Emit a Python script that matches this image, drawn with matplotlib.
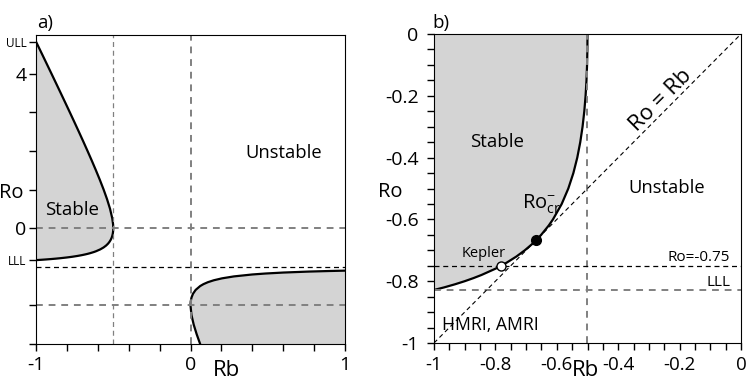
import numpy as np
import matplotlib
matplotlib.use("Agg")
import matplotlib.pyplot as plt

plt.rcParams['font.family'] = ['Open Sans', 'DejaVu Sans']
plt.rcParams['mathtext.fontset'] = 'custom'
plt.rcParams['mathtext.rm'] = 'Open Sans'
plt.rcParams['mathtext.it'] = 'Open Sans'

# stability boundary, branch Ro > -1
ro_left = [-0.8284, -0.82, -0.81, -0.80, -0.79, -0.78, -0.76, -0.75, -0.74, -0.72,
           -0.70, -0.68, -0.6667, -0.65, -0.62, -0.6, -0.55, -0.5, -0.45, -0.4,
           -0.35, -0.3, -0.25, -0.2, -0.15, -0.1, -0.05, 0.0, 0.1, 0.25, 0.5,
           0.75, 1.0, 1.25, 1.5, 1.75, 2.0, 2.25, 2.5, 2.75, 3.0, 3.25, 3.5,
           3.75, 4.0, 4.25, 4.5, 4.65, 4.8284]
rb_left = [-1.0, -0.9669, -0.9317, -0.9, -0.8715, -0.8457, -0.8008, -0.78125, -0.7633, -0.7314,
           -0.7042, -0.6806, -0.6667, -0.6509, -0.6264, -0.6125, -0.584, -0.5625, -0.546, -0.5333,
           -0.5236, -0.5161, -0.5104, -0.50625, -0.5033, -0.5014, -0.50033, -0.5, -0.5011, -0.50625, -0.5208,
           -0.5402, -0.5625, -0.5868, -0.6125, -0.6392, -0.6667, -0.6947, -0.7232, -0.7521, -0.78125, -0.8107, -0.8403,
           -0.8701, -0.9, -0.9301, -0.9602, -0.9784, -1.0]

# branch Ro < -1
ro_right = [-3.0, -2.75, -2.5, -2.25, -2.0, -1.9, -1.8, -1.7, -1.6, -1.5, -1.45,
            -1.4, -1.35, -1.3, -1.25, -1.2, -1.175, -1.15, -1.125, -1.11, -1.101]
rb_right = [0.0625, 0.0402, 0.0208, 0.00625, 0.0, 0.00139, 0.00625, 0.0161, 0.0333, 0.0625, 0.084,
            0.1125, 0.1509, 0.2042, 0.28125, 0.4, 0.4862, 0.6021, 0.7656, 0.9001, 1.0]

ULL = 4.8284
LLL = -0.8284
kepler = (-0.78125, -0.75)
crit = (-0.6667, -0.6667)

a_yticks = [ULL, 4, 3, 2, 1, 0, LLL, -2, -3]
a_ylabels = ['ULL', '4', '', '', '', '0', 'LLL', '', '']
b_ticks = [-1, -0.8, -0.6, -0.4, -0.2, 0]
b_labels = ['-1', '-0.8', '-0.6', '-0.4', '-0.2', '0']

shade = '#d4d4d4'
gray = '#808080'

fig = plt.figure(figsize=(7.47, 3.80), dpi=100)
ax1 = fig.add_axes([36/747, 36/380, 309/747, 309/380])
ax2 = fig.add_axes([434/747, 37/380, 307/747, 309/380])

# ---- panel a
ax1.fill_betweenx(ro_left, -1, rb_left, color=shade, lw=0)
ax1.fill_betweenx(ro_right, rb_right, 1, color=shade, lw=0)
ax1.plot(rb_left, ro_left, color='black', lw=1.6)
ax1.plot(rb_right, ro_right, color='black', lw=1.6)
ax1.axvline(-0.5, color=gray, lw=0.9, ls=(0, (4, 3)))
ax1.axvline(0, color=gray, lw=1.4, ls=(0, (3.5, 3)))
ax1.axhline(0, color=gray, lw=1.4, ls=(0, (3.5, 3)))
ax1.axhline(-2, color=gray, lw=1.4, ls=(0, (3.5, 3)))
ax1.axhline(-1, color='black', lw=0.9, ls=(0, (4, 3)))
ax1.set_xlim(-1, 1)
ax1.set_ylim(-3, 5)
ax1.set_xticks([-1, 0, 1])
ax1.set_xticklabels(['-1', '0', '1'])
ax1.set_xticks(np.arange(-1, 1.01, 0.2), minor=True)
ax1.set_yticks(a_yticks)
ax1.set_yticklabels(a_ylabels)
ax1.tick_params(axis='both', which='both', direction='out', length=5, width=1,
                labelsize=14, pad=2)
ax1.tick_params(axis='x', pad=4)
for lab in ax1.get_yticklabels():
    if lab.get_text() in ('ULL', 'LLL'):
        lab.set_fontsize(8.5)
ax1.text(-0.764, 0.47, 'Stable', fontsize=13.5, ha='center', va='center')
ax1.text(0.60, 1.94, 'Unstable', fontsize=13.2, ha='center', va='center')
ax1.text(0.23, -0.085, 'Rb', transform=ax1.get_xaxis_transform(), fontsize=16,
         ha='center', va='center')
fig.text(11/747, 1 - 193/380, 'Ro', fontsize=14.5, ha='center', va='center')
fig.text(37/747, 1 - 23/380, 'a)', fontsize=13.5, ha='left', va='center')

# ---- panel b
ax2.fill_betweenx(ro_left, -1, rb_left, color=shade, lw=0)
ax2.plot(rb_left, ro_left, color='black', lw=1.6)
ax2.axvline(-0.5, color=gray, lw=1.4, ls=(0, (3.5, 3)))
ax2.axhline(LLL, color=gray, lw=1.4, ls=(0, (3.5, 3)))
ax2.axhline(-0.75, color='black', lw=0.9, ls=(0, (4, 3)))
ax2.plot([-1, 0], [-1, 0], color='black', lw=0.8, ls=(0, (4, 3)))
ax2.plot(*crit, 'o', color='black', ms=7)
ax2.plot(*kepler, 'o', mfc='white', mec='black', ms=6.5, mew=1)
ax2.set_xlim(-1, 0)
ax2.set_ylim(-1, 0)
ax2.set_xticks(b_ticks)
ax2.set_xticklabels(b_labels)
ax2.set_yticks(b_ticks)
ax2.set_yticklabels(b_labels)
ax2.set_xticks(np.arange(-1, 0.001, 0.05), minor=True)
ax2.set_yticks(np.arange(-1, 0.001, 0.05), minor=True)
ax2.tick_params(axis='both', which='both', direction='out', length=5, width=1,
                labelsize=14)
ax2.tick_params(axis='y', pad=6)
ax2.tick_params(axis='x', pad=4, labelsize=13.5)
ax2.text(-0.793, -0.349, 'Stable', fontsize=13.5, ha='center', va='center')
ax2.text(-0.243, -0.498, 'Unstable', fontsize=13.2, ha='center', va='center')
ax2.text(-0.262, -0.214, 'Ro = Rb', fontsize=16, rotation=45,
         ha='center', va='center', rotation_mode='anchor')
ax2.text(-0.712, -0.552, r'Ro$^{-}_{\mathrm{cr}}$', fontsize=14.5, ha='left', va='center')
ax2.text(-0.838, -0.711, 'Kepler', fontsize=10.5, ha='center', va='center')
ax2.text(-0.035, -0.723, 'Ro=-0.75', fontsize=11, ha='right', va='center')
ax2.text(-0.035, -0.803, 'LLL', fontsize=11, ha='right', va='center')
ax2.text(-0.974, -0.941, 'HMRI, AMRI', fontsize=12.7, ha='left', va='center')
ax2.text(-0.505, -0.088, 'Rb', transform=ax2.get_xaxis_transform(), fontsize=16,
         ha='center', va='center')
fig.text(390/747, 1 - 192/380, 'Ro', fontsize=14.5, ha='center', va='center')
fig.text(432/747, 1 - 23/380, 'b)', fontsize=13.5, ha='left', va='center')

fig.savefig('out.png', dpi=100)
